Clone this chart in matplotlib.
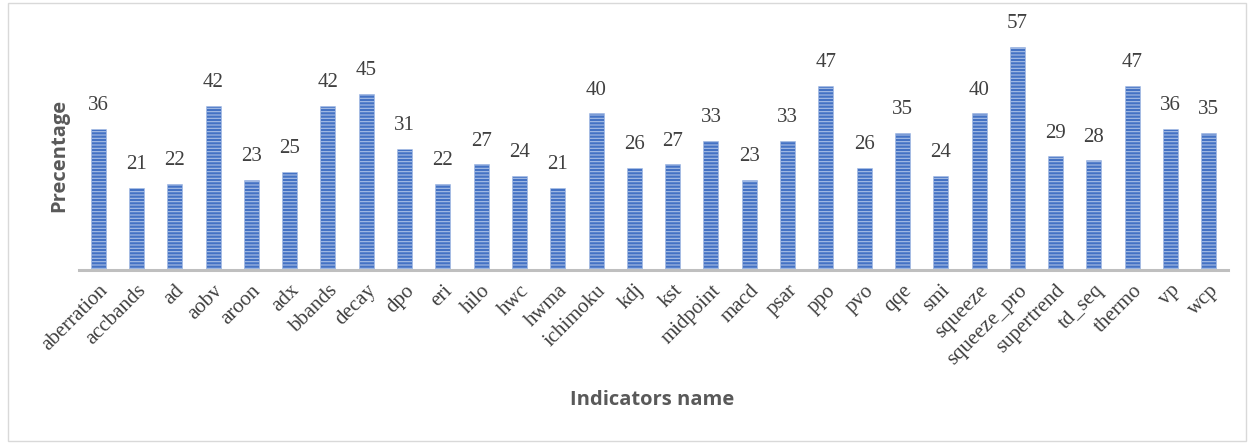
import matplotlib.pyplot as plt
from matplotlib.patches import Rectangle

indicators = ['aberration', 'accbands', 'ad', 'aobv', 'aroon', 'adx', 'bbands', 'decay', 'dpo',
              'eri', 'hilo', 'hwc', 'hwma', 'ichimoku', 'kdj', 'kst', 'midpoint', 'macd', 'psar',
              'ppo', 'pvo', 'qqe', 'smi', 'squeeze', 'squeeze_pro', 'supertrend', 'td_seq',
              'thermo', 'vp', 'wcp']
percentage = [36, 21, 22, 42, 23, 25, 42, 45, 31, 22, 27, 24, 21, 40, 26, 27, 33, 23, 33,
              47, 26, 35, 24, 40, 57, 29, 28, 47, 36, 35]

plt.rcParams['hatch.linewidth'] = 0.8

fig = plt.figure(figsize=(12.54, 4.44), dpi=100)
ax = fig.add_axes([79 / 1254, 1 - 270 / 444, 1149 / 1254, 235 / 444])

x = range(len(indicators))
bars = ax.bar(x, percentage, width=0.39, color='#4472C4', edgecolor='#A9BFE6',
              hatch='-----', linewidth=0.4)

for xi, v in zip(x, percentage):
    ax.text(xi, v + 3.5, str(v), ha='center', va='bottom', fontsize=15,
            family='Liberation Serif', color='#404040')

ax.set_xlim(-0.5, len(indicators) - 0.5)
ax.set_ylim(0, 60)
ax.set_yticks([])
ax.set_xticks(list(x))
ax.set_xticklabels(indicators, rotation=45, ha='right', rotation_mode='anchor',
                   fontsize=15, family='Liberation Serif', color='#404040')
ax.tick_params(axis='x', length=0, pad=8)
for s in ['top', 'right', 'left']:
    ax.spines[s].set_visible(False)
ax.spines['bottom'].set_color('#BFBFBF')
ax.spines['bottom'].set_linewidth(2.2)

fig.text(59 / 1254, 1 - 155 / 444, 'Precentage', rotation=90, ha='center', va='center',
         fontsize=14.5, fontweight='bold', family='Open Sans', color='#595959')
fig.text(652 / 1254, 1 - 400 / 444, 'Indicators name', ha='center', va='center',
         fontsize=14.5, fontweight='bold', family='Open Sans', color='#595959')

fig.patches.append(Rectangle((0.006, 0.006), 0.988, 0.988, transform=fig.transFigure,
                             fill=False, edgecolor='#D9D9D9', linewidth=1))

fig.savefig('out.png', dpi=100)
